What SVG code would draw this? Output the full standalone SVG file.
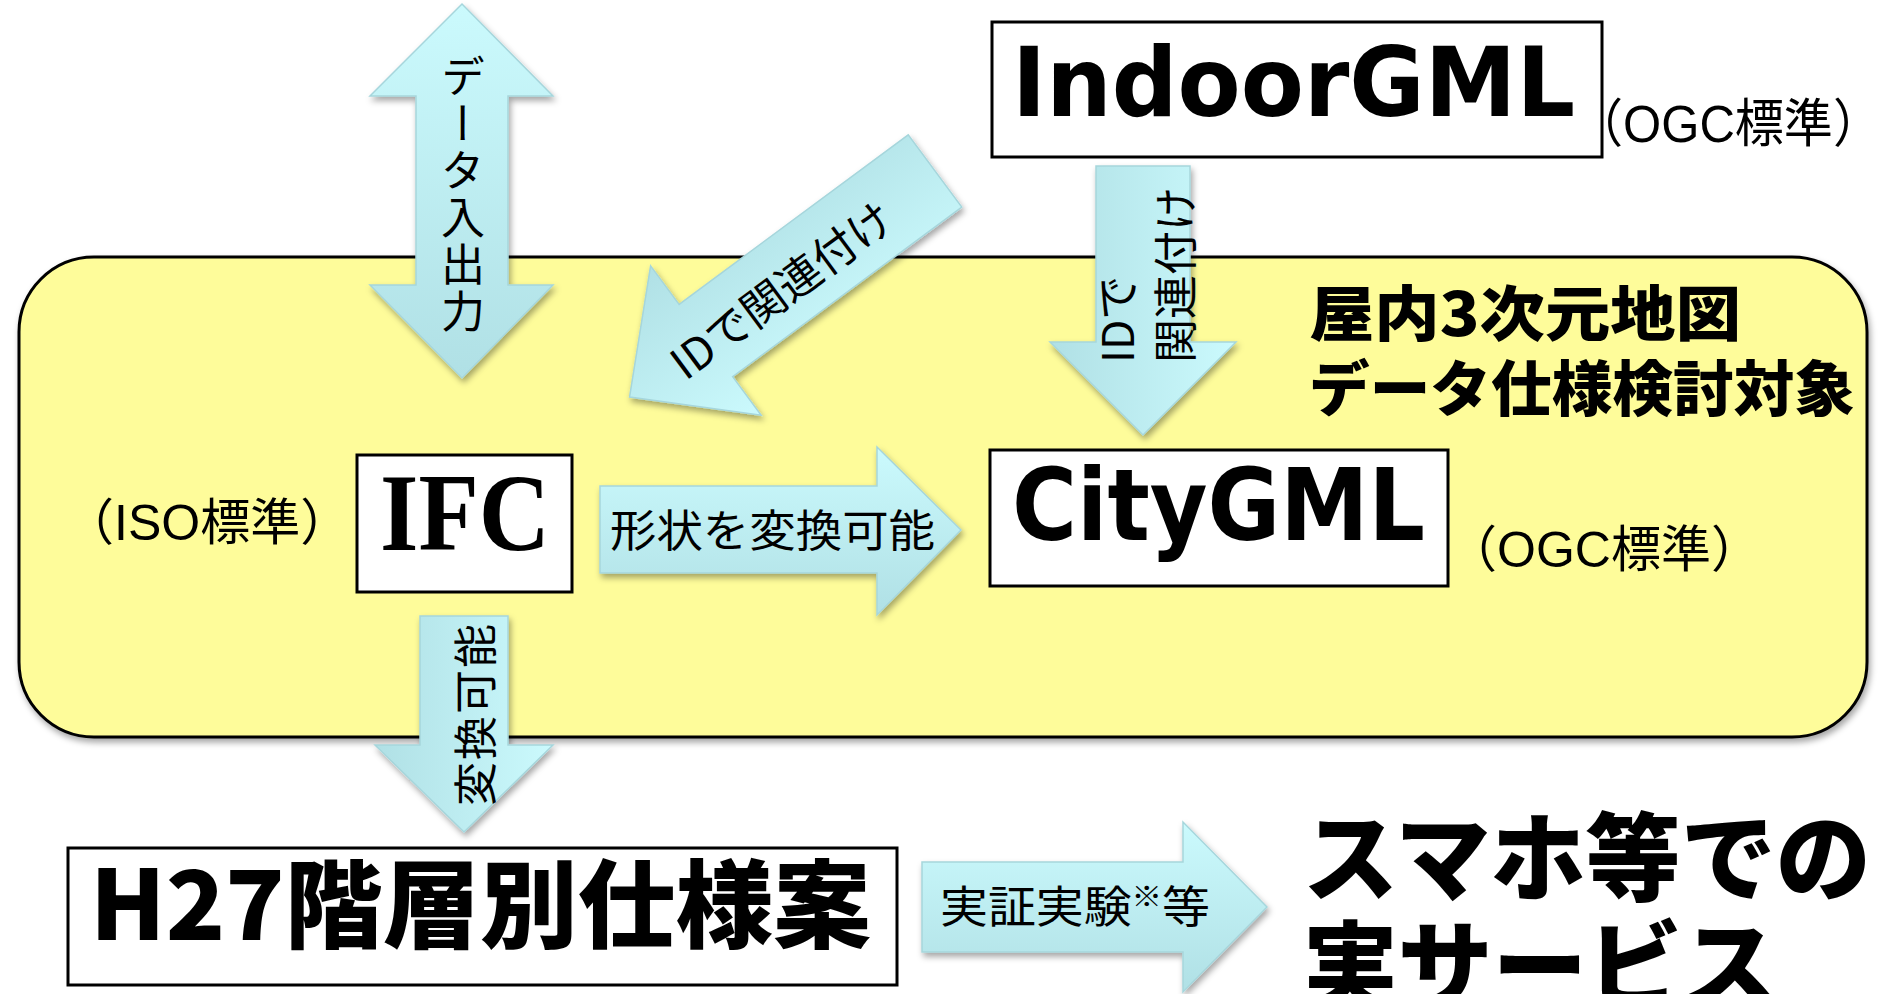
<svg xmlns="http://www.w3.org/2000/svg" width="1883" height="994" viewBox="0 0 1883 994">
<style>
.box{fill:#fff;stroke:#000;stroke-width:3}
.arr{stroke:#a6d6dc;stroke-width:1.5}
.jp{font-family:"Liberation Sans","Noto Sans CJK JP",sans-serif;fill:#000}
.lat{font-family:"DejaVu Sans","Noto Sans",sans-serif;font-weight:bold;fill:#000}
.lbl{font-family:"Noto Sans CJK JP",sans-serif;font-size:44px;fill:#000}
.big{font-family:"Noto Sans CJK JP",sans-serif;font-weight:900;fill:#000}
</style>
<defs>
<linearGradient id="gv" x1="0" y1="0" x2="0" y2="1"><stop offset="0" stop-color="#cbfafd"/><stop offset="1" stop-color="#b0e0e5"/></linearGradient>
<linearGradient id="gh" x1="1" y1="0" x2="0" y2="0"><stop offset="0" stop-color="#cbfafd"/><stop offset="1" stop-color="#b0e0e5"/></linearGradient>
<filter id="sh" x="-20%" y="-20%" width="140%" height="140%"><feDropShadow dx="2" dy="4" stdDeviation="3" flood-color="#000" flood-opacity="0.35"/></filter>
</defs>
<rect width="1883" height="994" fill="#fff"/>

<g id="scope">
<rect x="19" y="257" width="1848" height="480" rx="75" ry="75" fill="#fefc9a" stroke="#000" stroke-width="3" filter="url(#sh)"/>
<text class="big" font-size="60" x="1309" y="336" textLength="432" lengthAdjust="spacingAndGlyphs">屋内3次元地図</text>
<text class="big" font-size="60" x="1309" y="411" textLength="546" lengthAdjust="spacingAndGlyphs">データ仕様検討対象</text>
</g>

<g id="indoorgml">
<rect class="box" x="992" y="22" width="610" height="135"/>
<text class="lat" font-size="96" x="1012" y="116" textLength="563" lengthAdjust="spacingAndGlyphs">IndoorGML</text>
<text class="jp" font-size="52" x="1574" y="142" textLength="308" lengthAdjust="spacingAndGlyphs">（OGC標準）</text>
</g>

<g id="ifc">
<rect class="box" x="357" y="455" width="215" height="137"/>
<text font-family="'Liberation Serif',serif" font-weight="bold" font-size="110" x="380" y="550" textLength="170" lengthAdjust="spacingAndGlyphs">IFC</text>
<text class="jp" font-size="50" x="64" y="540">（ISO標準）</text>
</g>

<g id="citygml">
<rect class="box" x="990" y="450" width="458" height="136"/>
<text class="lat" font-size="99" x="1012" y="540" textLength="413" lengthAdjust="spacingAndGlyphs">CityGML</text>
<text class="jp" font-size="50" x="1447" y="567">（OGC標準）</text>
</g>

<g id="h27">
<rect class="box" x="68" y="848" width="829" height="137"/>
<text class="big" font-size="96" x="90" y="940" textLength="781" lengthAdjust="spacingAndGlyphs">H27階層別仕様案</text>
</g>

<g id="service">
<text class="big" font-size="96" x="1303" y="893" textLength="568" lengthAdjust="spacingAndGlyphs">スマホ等での</text>
<text class="big" font-size="96" x="1303" y="1001" textLength="474" lengthAdjust="spacingAndGlyphs">実サービス</text>
</g>

<g id="connectors">
<g filter="url(#sh)">
<polygon class="arr" fill="url(#gv)" points="462,4 553,96 508,96 508,285 553,285 462,378 370,285 416,285 416,96 370,96"/>
</g>
<text class="lbl" font-size="42" x="463" y="54" writing-mode="vertical-rl" letter-spacing="3" style="writing-mode:vertical-rl">データ入出力</text>

<g filter="url(#sh)">
<g transform="translate(935,171) rotate(143.5)">
<polygon class="arr" fill="url(#gv)" points="0,-45 285,-45 285,-93 380,0 285,93 285,45 0,45"/>
</g>
</g>
<text class="lbl" font-size="42" transform="translate(780,288) rotate(-36.5)" text-anchor="middle" dominant-baseline="central">IDで関連付け</text>

<g filter="url(#sh)">
<polygon class="arr" fill="url(#gh)" points="1096,166 1190,166 1190,342 1236,342 1143,435 1050,342 1096,342"/>
</g>
<g transform="translate(1115,363) rotate(-90)">
<text class="lbl" x="0" y="0" dominant-baseline="central">IDで</text>
<text class="lbl" x="0" y="58" dominant-baseline="central">関連付け</text>
</g>

<g filter="url(#sh)">
<polygon class="arr" fill="url(#gv)" points="600,486 877,486 877,447 961,530 877,615 877,573 600,573"/>
</g>
<text class="lbl" font-size="46" x="610" y="547" textLength="325" lengthAdjust="spacingAndGlyphs">形状を変換可能</text>

<g filter="url(#sh)">
<polygon class="arr" fill="url(#gh)" points="420,616 508,616 508,745 553,745 464,832 375,745 420,745"/>
</g>
<text class="lbl" transform="translate(473,806) rotate(-90)" dominant-baseline="central" letter-spacing="2">変換可能</text>

<g filter="url(#sh)">
<polygon class="arr" fill="url(#gv)" points="922,862 1183,862 1183,822 1267,907 1183,992 1183,952 922,952"/>
</g>
<text class="lbl" font-size="46" x="940" y="923" textLength="270" lengthAdjust="spacingAndGlyphs">実証実験<tspan font-size="28" dy="-16">※</tspan><tspan dy="16">等</tspan></text>
</g>
</svg>
